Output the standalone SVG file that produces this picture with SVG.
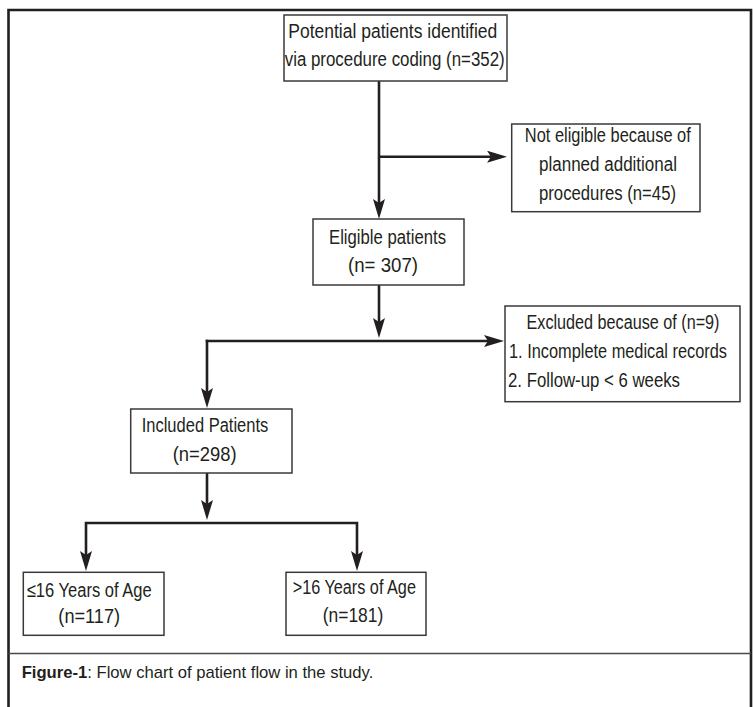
<svg xmlns="http://www.w3.org/2000/svg" width="753" height="707" viewBox="0 0 753 707">
<defs>
<marker id="arr" viewBox="0 0 20 12" refX="12" refY="6" markerWidth="20" markerHeight="12" markerUnits="userSpaceOnUse" orient="auto-start-reverse">
<path d="M0,0 L20,6 L0,12 L4,6 Z" fill="#231f20"/>
</marker>
</defs>
<style>
.frame{fill:none;stroke:#231f20;stroke-width:2.6}
.sep{fill:none;stroke:#4a4a4a;stroke-width:1.6}
.box{fill:#fff;stroke:#3a3a3a;stroke-width:1.5}
.t{font-family:"Liberation Sans",Arial,sans-serif;font-size:20px;fill:#231f20}
.c{text-anchor:middle}
.cap{font-family:"Liberation Sans",Arial,sans-serif;font-size:17px;fill:#231f20}
.b{font-weight:bold}
.ln{fill:none;stroke:#231f20;stroke-width:2.6}
</style>
<rect x="0" y="0" width="753" height="707" fill="#fff"/>
<path class="frame" d="M8.5,707 V10 H751 V707"/>
<line class="sep" x1="8.5" y1="653.5" x2="751" y2="653.5"/>

<g id="connectors">
<path class="ln" d="M379,81 V211" marker-end="url(#arr)"/>
<path class="ln" d="M379,156.7 H499" marker-end="url(#arr)"/>
<path class="ln" d="M379,285 V330" marker-end="url(#arr)"/>
<path class="ln" d="M205.7,341 H496" marker-end="url(#arr)"/>
<path class="ln" d="M207,339.7 V400" marker-end="url(#arr)"/>
<path class="ln" d="M207,473 V512" marker-end="url(#arr)"/>
<path class="ln" d="M86,563 V523 H357 V563" marker-start="url(#arr)" marker-end="url(#arr)"/>
</g>

<g id="potential">
<rect class="box" x="284" y="15" width="223" height="66"/>
<text class="t c" x="392.8" y="37.5" textLength="209" lengthAdjust="spacingAndGlyphs">Potential patients identified</text>
<text class="t c" x="394.7" y="66" textLength="220" lengthAdjust="spacingAndGlyphs">via procedure coding (n=352)</text>
</g>

<g id="not-eligible">
<rect class="box" x="511.7" y="124" width="188.3" height="87.7"/>
<text class="t c" x="607.8" y="142" textLength="166" lengthAdjust="spacingAndGlyphs">Not eligible because of</text>
<text class="t c" x="608" y="171" textLength="138" lengthAdjust="spacingAndGlyphs">planned additional</text>
<text class="t c" x="607.5" y="200" textLength="137" lengthAdjust="spacingAndGlyphs">procedures (n=45)</text>
</g>

<g id="eligible">
<rect class="box" x="313" y="219" width="151" height="66"/>
<text class="t c" x="387.5" y="244" textLength="117" lengthAdjust="spacingAndGlyphs">Eligible patients</text>
<text class="t c" x="383" y="272" textLength="70" lengthAdjust="spacingAndGlyphs">(n= 307)</text>
</g>

<g id="excluded">
<rect class="box" x="505" y="306" width="235" height="95.7"/>
<text class="t c" x="623" y="329" textLength="193" lengthAdjust="spacingAndGlyphs">Excluded because of (n=9)</text>
<text class="t" x="509" y="358" textLength="218" lengthAdjust="spacingAndGlyphs">1. Incomplete medical records</text>
<text class="t" x="508" y="386.7" textLength="172" lengthAdjust="spacingAndGlyphs">2. Follow-up &lt; 6 weeks</text>
</g>

<g id="included">
<rect class="box" x="130.7" y="409" width="161.3" height="64"/>
<text class="t c" x="205" y="431.7" textLength="126.6" lengthAdjust="spacingAndGlyphs">Included Patients</text>
<text class="t c" x="204.7" y="460.7" textLength="64" lengthAdjust="spacingAndGlyphs">(n=298)</text>
</g>

<g id="age-le16">
<rect class="box" x="23.3" y="572.3" width="140.7" height="63"/>
<text class="t c" x="89.2" y="597" textLength="125" lengthAdjust="spacingAndGlyphs">≤16 Years of Age</text>
<text class="t c" x="89.2" y="623" textLength="61.7" lengthAdjust="spacingAndGlyphs">(n=117)</text>
</g>

<g id="age-gt16">
<rect class="box" x="286" y="572.3" width="140" height="63"/>
<text class="t c" x="354.3" y="594" textLength="123.3" lengthAdjust="spacingAndGlyphs">&gt;16 Years of Age</text>
<text class="t c" x="353" y="622" textLength="60.6" lengthAdjust="spacingAndGlyphs">(n=181)</text>
</g>

<g id="caption">
<text class="cap b" x="21.7" y="678" textLength="65.6" lengthAdjust="spacingAndGlyphs">Figure-1</text>
<text class="cap" x="87.3" y="678" textLength="286" lengthAdjust="spacingAndGlyphs">: Flow chart of patient flow in the study.</text>
</g>
</svg>
